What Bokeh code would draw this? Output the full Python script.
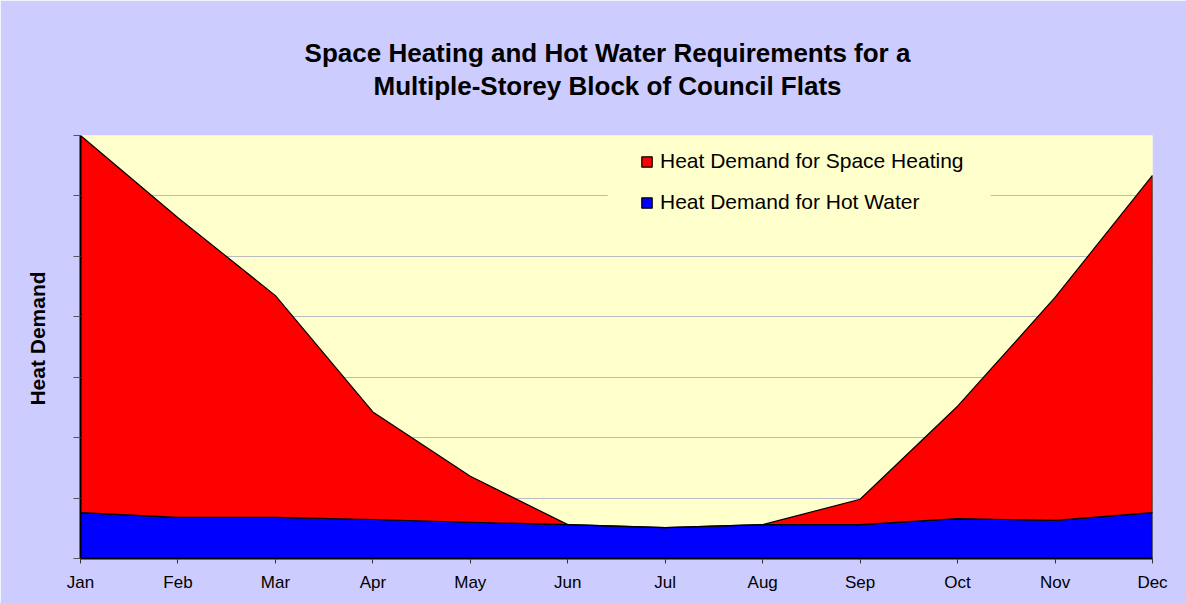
import math
from bokeh.plotting import figure
from bokeh.models import (ColumnDataSource, FixedTicker, Range1d, Label, Legend,
                          LegendItem, BoxAnnotation)
from bokeh.embed import file_html
from bokeh.resources import INLINE

# ---- data ----
months = ["Jan", "Feb", "Mar", "Apr", "May", "Jun",
          "Jul", "Aug", "Sep", "Oct", "Nov", "Dec"]
hot_water = [0.76, 0.68, 0.68, 0.645, 0.60, 0.56, 0.51, 0.56, 0.56, 0.66, 0.63, 0.76]
space_heating = [6.24, 4.96, 3.67, 1.78, 0.76, 0.0, 0.0, 0.0, 0.42, 1.86, 3.69, 5.58]
y_ticks = [0, 1, 2, 3, 4, 5, 6, 7]
title_lines = ["Space Heating and Hot Water Requirements for a",
               "Multiple-Storey Block of Council Flats"]
y_title = "Heat Demand"

FONT = "Liberation Sans"
x = list(range(len(months)))
total = [h + s for h, s in zip(hot_water, space_heating)]

blue_src = ColumnDataSource(dict(x=x + x[::-1], y=hot_water + [0] * len(x)))
red_src = ColumnDataSource(dict(x=x + x[::-1], y=total + hot_water[::-1]))

p = figure(width=1186, height=603, output_backend="svg", toolbar_location=None,
           x_range=Range1d(0, len(x) - 1), y_range=Range1d(y_ticks[0], y_ticks[-1]),
           min_border_left=80, min_border_right=34, min_border_top=135,
           min_border_bottom=45, background_fill_color="#FFFFCC",
           border_fill_color="#CCCCFF", outline_line_color=None, title=None)

# two centred title lines, placed in canvas pixels inside the top panel
for line, ty in zip(title_lines, [52, 85]):
    p.add_layout(Label(x=607, y=ty, x_units="canvas", y_units="canvas", text=line,
                       text_align="center", text_baseline="middle",
                       text_font=FONT, text_font_size="26px",
                       text_font_style="bold", text_color="black"), "above")

# y-axis title, placed in canvas pixels inside the left panel
p.add_layout(Label(x=37, y=338, x_units="canvas", y_units="canvas", text=y_title,
                   angle=math.pi / 2, text_align="center", text_baseline="middle",
                   text_font=FONT, text_font_size="21px", text_font_style="bold",
                   text_color="black"), "left")

# gridlines
p.xgrid.grid_line_color = None
p.ygrid.ticker = FixedTicker(ticks=y_ticks)
p.ygrid.grid_line_color = "#BBBBC4"
p.ygrid.grid_line_width = 1

r_blue = p.patch("x", "y", source=blue_src, fill_color="#0000FF",
                 line_color="black", line_width=1.2)
r_red = p.patch("x", "y", source=red_src, fill_color="#FF0000",
                line_color="black", line_width=1.2)

# x axis
p.xaxis.ticker = FixedTicker(ticks=x)
p.xaxis.major_label_overrides = {i: m for i, m in enumerate(months)}
p.xaxis.major_label_text_font = FONT
p.xaxis.major_label_text_font_size = "17px"
p.xaxis.major_label_text_color = "black"
p.xaxis.major_label_standoff = 9
p.xaxis.axis_line_color = "black"
p.xaxis.axis_line_width = 2
p.xaxis.major_tick_out = 5
p.xaxis.major_tick_in = 0
p.xaxis.major_tick_line_color = "#333333"
p.xaxis.minor_tick_line_color = None

# y axis (ticks without labels)
p.yaxis.ticker = FixedTicker(ticks=y_ticks)
p.yaxis.major_label_overrides = {t: "" for t in y_ticks}
p.yaxis.major_label_standoff = 0
p.yaxis.axis_line_color = "black"
p.yaxis.axis_line_width = 2
p.yaxis.major_tick_out = 7
p.yaxis.major_tick_in = 0
p.yaxis.major_tick_line_color = "#555555"
p.yaxis.minor_tick_line_color = None

# legend backdrop (hides the gridline behind the legend, as in the reference)
p.add_layout(BoxAnnotation(left=5.41, right=9.34, bottom=5.6, top=6.45,
                           fill_color="#FFFFCC", fill_alpha=1.0, line_color=None,
                           level="underlay"))

legend = Legend(items=[LegendItem(label="Heat Demand for Space Heating", renderers=[r_red]),
                       LegendItem(label="Heat Demand for Hot Water", renderers=[r_blue])],
                location=(560, 344), padding=8, spacing=17, margin=0,
                glyph_width=13, glyph_height=13, label_standoff=7,
                label_text_font=FONT, label_text_font_size="21px",
                label_text_color="black", background_fill_color="#FFFFCC",
                background_fill_alpha=1.0, border_line_color=None)
p.add_layout(legend)

open("out.html", "w").write(file_html(p, INLINE))
